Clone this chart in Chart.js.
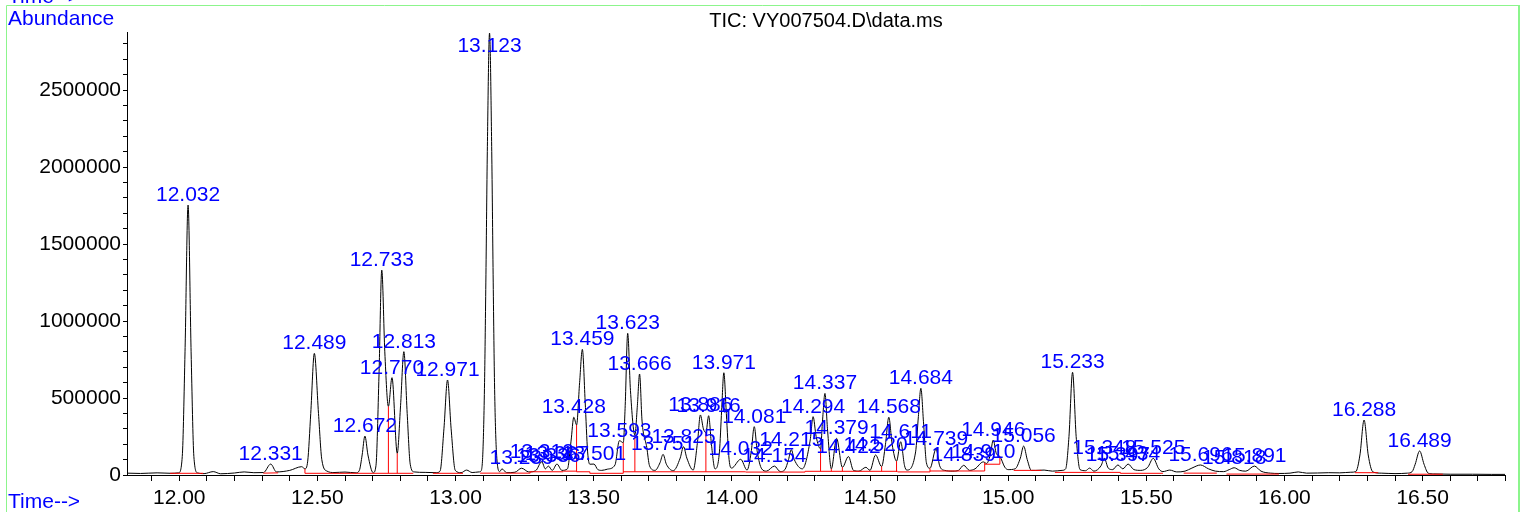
<!DOCTYPE html>
<html>
<head>
<meta charset="utf-8">
<script src="https://cdn.jsdelivr.net/npm/chart.js@4.4.0/dist/chart.umd.min.js"></script>
<style>
  html, body { margin: 0; padding: 0; background: #fff; }
  canvas { display: block; }
</style>
</head>
<body>
<canvas id="tic" width="1526" height="512"></canvas>
<script>
// TIC trace: [time (min), abundance]
const trace = [
  [11.811, 12000], [11.86, 10000], [11.92, 14000], [11.97, 11000], [11.998, 14000],
  [12.011, 120000], [12.021, 800000], [12.032, 1753000], [12.043, 800000], [12.053, 120000], [12.066, 14000],
  [12.09, 9000], [12.123, 22000], [12.15, 8000], [12.20, 13000], [12.235, 20000], [12.27, 15000], [12.305, 16000],
  [12.331, 71000], [12.352, 20000], [12.40, 30000], [12.443, 54000], [12.455, 40000],
  [12.465, 90000], [12.476, 400000], [12.489, 790000], [12.504, 400000], [12.516, 100000], [12.535, 25000],
  [12.56, 16000], [12.60, 19000], [12.64, 14000],
  [12.652, 30000], [12.662, 130000], [12.672, 253000], [12.683, 130000], [12.702, 15000],
  [12.712, 60000], [12.723, 650000], [12.733, 1331000], [12.744, 800000], [12.757, 445000],
  [12.770, 632000], [12.789, 141000],
  [12.801, 450000], [12.813, 801000], [12.825, 400000], [12.836, 70000], [12.85, 20000],
  [12.89, 17000], [12.93, 15000], [12.944, 25000],
  [12.958, 300000], [12.971, 617000], [12.984, 300000], [12.999, 30000],
  [13.02, 15000], [13.040, 32000], [13.06, 16000], [13.085, 20000],
  [13.092, 25000], [13.099, 150000], [13.105, 600000], [13.110, 1300000], [13.115, 2100000], [13.123, 2870000],
  [13.131, 2100000], [13.136, 1300000], [13.141, 600000], [13.148, 150000], [13.160, 22000],
  [13.168, 40000], [13.185, 15000], [13.215, 18000],
  [13.239, 44000], [13.265, 20000], [13.29, 28000],
  [13.312, 86000], [13.325, 40000], [13.336, 58000], [13.350, 30000], [13.367, 71000], [13.385, 30000], [13.405, 40000],
  [13.418, 220000], [13.428, 375000], [13.438, 325000], [13.449, 600000], [13.459, 816000], [13.469, 480000],
  [13.478, 150000], [13.486, 70000],
  [13.501, 71000], [13.515, 35000], [13.529, 30000], [13.55, 38000], [13.577, 65000],
  [13.593, 223000], [13.607, 210000], [13.614, 450000], [13.623, 920000], [13.633, 550000], [13.649, 260000],
  [13.658, 450000], [13.666, 656000], [13.675, 350000], [13.692, 180000], [13.702, 60000], [13.722, 30000],
  [13.740, 80000], [13.751, 134000], [13.763, 70000], [13.788, 28000],
  [13.813, 110000], [13.825, 184000], [13.837, 110000], [13.860, 32000],
  [13.876, 220000], [13.886, 390000], [13.897, 300000], [13.906, 275000], [13.916, 385000], [13.926, 200000], [13.939, 40000],
  [13.955, 150000], [13.963, 420000], [13.971, 664000], [13.980, 400000], [13.990, 100000], [13.999, 45000],
  [14.032, 102000], [14.055, 32000],
  [14.070, 150000], [14.081, 314000], [14.092, 150000], [14.108, 40000],
  [14.125, 25000], [14.154, 58000], [14.175, 22000], [14.192, 35000],
  [14.205, 100000], [14.215, 165000], [14.226, 100000], [14.255, 40000],
  [14.283, 220000], [14.294, 379000], [14.305, 250000], [14.321, 170000],
  [14.328, 350000], [14.337, 530000], [14.346, 300000], [14.360, 40000],
  [14.379, 238000], [14.400, 50000],
  [14.422, 120000], [14.44, 30000], [14.46, 25000], [14.485, 50000], [14.50, 30000],
  [14.520, 130000], [14.542, 55000],
  [14.556, 200000], [14.568, 375000], [14.580, 200000], [14.596, 90000],
  [14.611, 216000], [14.625, 60000], [14.633, 32000],
  [14.665, 150000], [14.675, 380000], [14.684, 563000], [14.694, 330000], [14.704, 80000], [14.717, 44000],
  [14.739, 170000], [14.752, 60000], [14.77, 30000], [14.80, 25000], [14.82, 30000],
  [14.839, 63000], [14.86, 30000], [14.88, 40000],
  [14.910, 85000], [14.922, 75000], [14.935, 130000], [14.946, 227000], [14.957, 140000], [14.970, 120000],
  [14.988, 50000], [15.00, 35000], [15.025, 40000],
  [15.044, 110000], [15.056, 188000], [15.069, 100000], [15.084, 30000], [15.10, 30000], [15.13, 32000], [15.16, 25000], [15.195, 30000],
  [15.208, 40000], [15.220, 250000], [15.233, 667000], [15.246, 250000], [15.260, 35000], [15.28, 28000], [15.295, 45000], [15.31, 25000],
  [15.336, 60000], [15.348, 108000], [15.362, 45000], [15.378, 35000], [15.397, 65000], [15.415, 40000], [15.434, 71000],
  [15.455, 35000], [15.48, 30000], [15.505, 50000],
  [15.525, 108000], [15.545, 40000], [15.56, 22000], [15.585, 32000], [15.61, 20000], [15.64, 25000], [15.665, 45000],
  [15.696, 65000], [15.725, 40000], [15.75, 25000], [15.78, 22000], [15.80, 35000], [15.818, 47000], [15.838, 30000],
  [15.86, 25000], [15.891, 58000], [15.915, 25000], [15.95, 12000], [15.98, 10000], [16.02, 12000], [16.05, 20000],
  [16.08, 12000], [16.12, 13000], [16.16, 15000], [16.20, 14000], [16.24, 18000],
  [16.258, 22000], [16.273, 130000], [16.288, 357000], [16.303, 130000], [16.320, 20000], [16.35, 12000], [16.40, 9000], [16.445, 12000],
  [16.462, 22000], [16.473, 70000], [16.489, 156000], [16.505, 70000], [16.520, 12000], [16.54, 7000],
  [16.60, 5000], [16.68, 5000], [16.75, 4000], [16.798, 4000]
];

// integrated peaks (labels sit on the apex)
const peakTimes = [
  12.032, 12.331, 12.489, 12.672, 12.733, 12.770, 12.813, 12.971, 13.123, 13.239,
  13.312, 13.336, 13.367, 13.428, 13.459, 13.501, 13.593, 13.623, 13.666, 13.751,
  13.825, 13.886, 13.916, 13.971, 14.032, 14.081, 14.154, 14.215, 14.294, 14.337,
  14.379, 14.422, 14.520, 14.568, 14.611, 14.684, 14.739, 14.839, 14.910, 14.946,
  15.056, 15.233, 15.348, 15.397, 15.434, 15.525, 15.696, 15.818, 15.891, 16.288, 16.489
];

// integration baselines: [t1, a1, t2, a2]
const baseSegments = [
  [11.967, 11000, 12.087, 11000], [12.304, 12000, 12.358, 14000], [12.455, 11000, 12.847, 11000],
  [12.918, 11000, 13.027, 11000], [13.089, 12000, 13.270, 12000], [13.270, 21000, 13.390, 21000],
  [13.390, 25000, 13.438, 25000], [13.438, 21000, 13.486, 21000], [13.486, 11000, 13.607, 11000],
  [13.607, 21000, 14.050, 21000], [14.050, 19000, 14.265, 19000], [14.265, 24000, 14.600, 24000],
  [14.600, 20000, 14.717, 20000], [14.717, 26000, 14.915, 26000], [14.915, 70000, 14.970, 70000],
  [15.020, 30000, 15.120, 30000], [15.169, 17000, 15.406, 17000], [15.406, 11000, 15.560, 11000],
  [15.635, 12000, 15.755, 12000], [15.790, 6000, 15.980, 6000], [16.255, 15000, 16.339, 15000],
  [16.447, 5000, 16.573, 5000]
];

// drop lines between unresolved peaks: [t, bottom, top]
const dropLines = [
  [12.455, 11000, 40000], [12.757, 11000, 445000], [12.789, 11000, 141000], [13.270, 12000, 21000],
  [13.438, 21000, 325000], [13.486, 11000, 21000], [13.607, 11000, 210000], [13.649, 21000, 260000],
  [13.906, 21000, 275000], [14.265, 19000, 24000], [14.321, 24000, 170000], [14.360, 24000, 40000],
  [14.400, 24000, 50000], [14.542, 24000, 55000], [14.596, 20000, 90000], [14.717, 20000, 44000],
  [14.915, 26000, 80000], [14.970, 70000, 120000], [15.406, 11000, 17000]
];

const xLabelTicks = [12.0, 12.5, 13.0, 13.5, 14.0, 14.5, 15.0, 15.5, 16.0, 16.5];
const yLabelTicks = [0, 500000, 1000000, 1500000, 2000000, 2500000];

const FONT = "'Liberation Sans', Arial, sans-serif";
Chart.defaults.font.family = FONT;
Chart.defaults.font.size = 21;
Chart.defaults.color = '#000';

const redPoints = [];
baseSegments.forEach(s => {
  redPoints.push({x: s[0], y: s[1]}, {x: s[2], y: s[3]}, {x: s[2], y: null});
});
dropLines.forEach(d => {
  redPoints.push({x: d[0], y: d[1]}, {x: d[0], y: d[2]}, {x: d[0], y: null});
});

const isOn = (list, v) => list.some(m => Math.abs(m - v) < 1e-6);

const decor = {
  id: 'decor',
  afterDatasetsDraw(chart) {
    const {ctx, chartArea, scales: {x, y}} = chart;
    ctx.save();
    ctx.font = '21px ' + FONT;
    ctx.fillStyle = '#0000ff';
    ctx.textAlign = 'center';
    ctx.textBaseline = 'alphabetic';
    peakTimes.forEach(t => {
      const apex = trace.find(p => p[0] === t);
      const px = x.getPixelForValue(t);
      let py = y.getPixelForValue(apex[1]) - 4;
      py = Math.max(py, chartArea.top + 20);
      ctx.fillText(t.toFixed(3), px, py);
    });
    ctx.restore();
  },
  afterDraw(chart) {
    const ctx = chart.ctx;
    ctx.save();
    // frame
    ctx.strokeStyle = '#8cf58c';
    ctx.lineWidth = 1;
    ctx.beginPath();
    ctx.moveTo(6.5, 512); ctx.lineTo(6.5, 5.5); ctx.lineTo(1519, 5.5);
    ctx.stroke();
    ctx.lineWidth = 2;
    ctx.beginPath();
    ctx.moveTo(1519, 5); ctx.lineTo(1519, 512);
    ctx.stroke();
    // texts
    ctx.font = '21px ' + FONT;
    ctx.fillStyle = '#0000ff';
    ctx.textAlign = 'left';
    ctx.textBaseline = 'alphabetic';
    ctx.fillText('Time-->', 8, 3);
    ctx.fillText('Abundance', 8, 25);
    ctx.fillText('Time-->', 8, 508);
    ctx.fillStyle = '#000';
    ctx.font = '20px ' + FONT;
    ctx.textAlign = 'center';
    ctx.fillText('TIC: VY007504.D\\data.ms', 826, 27);
    ctx.restore();
  }
};

new Chart(document.getElementById('tic'), {
  type: 'line',
  data: {
    datasets: [
      {
        data: redPoints,
        borderColor: '#ff0000',
        borderWidth: 1,
        pointRadius: 0,
        spanGaps: false,
        tension: 0,
        order: 0
      },
      {
        data: trace.map(p => ({x: p[0], y: p[1]})),
        borderColor: '#000000',
        borderWidth: 1,
        pointRadius: 0,
        cubicInterpolationMode: 'monotone',
        order: 1
      }
    ]
  },
  options: {
    responsive: false,
    animation: false,
    events: [],
    layout: { padding: { left: 0, top: 32, right: 21, bottom: 0 } },
    plugins: { legend: { display: false }, tooltip: { enabled: false } },
    scales: {
      x: {
        type: 'linear',
        min: 11.811,
        max: 16.798,
        afterBuildTicks: scale => {
          const t = [];
          for (let i = 119; i <= 168; i++) t.push({value: i / 10});
          scale.ticks = t;
        },
        afterFit: scale => { scale.height = 37; },
        ticks: {
          autoSkip: false,
          maxRotation: 0,
          minRotation: 0,
          padding: 5,
          callback: v => isOn(xLabelTicks, v) ? v.toFixed(2) : ''
        },
        grid: { drawOnChartArea: false, tickLength: 6, tickColor: '#000' },
        border: { color: '#000', width: 1 }
      },
      y: {
        type: 'linear',
        min: 0,
        max: 2877000,
        afterBuildTicks: scale => {
          const t = [];
          for (let i = 0; i <= 28; i++) t.push({value: i * 100000});
          scale.ticks = t;
        },
        afterFit: scale => { scale.width = 127; },
        ticks: {
          autoSkip: false,
          padding: 2,
          callback: v => isOn(yLabelTicks, v) ? String(v) : ''
        },
        grid: { drawOnChartArea: false, tickLength: 4, tickColor: '#000' },
        border: { color: '#000', width: 1 }
      }
    }
  },
  plugins: [decor]
});
</script>
</body>
</html>
